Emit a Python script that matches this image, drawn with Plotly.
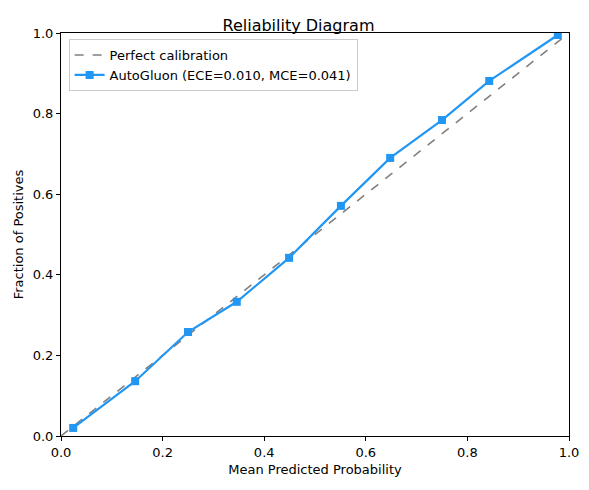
import plotly.graph_objects as go

perfect_x = [0, 1]
perfect_y = [0, 1]
mean_pred = [0.024, 0.146, 0.25, 0.346, 0.449, 0.551, 0.648, 0.75, 0.843, 0.978]
frac_pos = [0.02, 0.136, 0.258, 0.333, 0.442, 0.571, 0.690, 0.784, 0.881, 0.995]
ticks = [0, 0.2, 0.4, 0.6, 0.8, 1.0]
tick_text = ["0.0", "0.2", "0.4", "0.6", "0.8", "1.0"]

fig = go.Figure()
fig.add_trace(go.Scatter(x=perfect_x, y=perfect_y, mode="lines", name="Perfect calibration",
                         line=dict(color="gray", dash="dash", width=1.6)))
fig.add_trace(go.Scatter(x=mean_pred, y=frac_pos, mode="lines+markers",
                         name="AutoGluon (ECE=0.010, MCE=0.041)",
                         line=dict(color="#2196F3", width=2.2),
                         marker=dict(symbol="square", size=8, color="#2196F3")))
ax = dict(range=[0, 1], tickvals=ticks, ticktext=tick_text, showgrid=False, zeroline=False,
          showline=True, mirror=True, linecolor="black", linewidth=1, ticks="outside",
          ticklen=4, tickcolor="black", tickfont=dict(size=13, color="black"))
fig.update_layout(
    width=581, height=482, paper_bgcolor="white", plot_bgcolor="white",
    margin=dict(l=53, r=20, t=25, b=54, autoexpand=False),
    font=dict(family="DejaVu Sans", color="black"),
    title=dict(text="Reliability Diagram", x=0.5, xanchor="center", y=0.975, font=dict(size=16)),
    xaxis=dict(**ax, title=dict(text="Mean Predicted Probability", font=dict(size=13), standoff=6)),
    yaxis=dict(**ax, title=dict(text="Fraction of Positives", font=dict(size=13), standoff=6)),
    legend=dict(x=0.015, y=0.985, xanchor="left", yanchor="top", bgcolor="rgba(255,255,255,0.8)",
                bordercolor="#cccccc", borderwidth=1, font=dict(size=13)),
)
fig.write_html("out.html")
